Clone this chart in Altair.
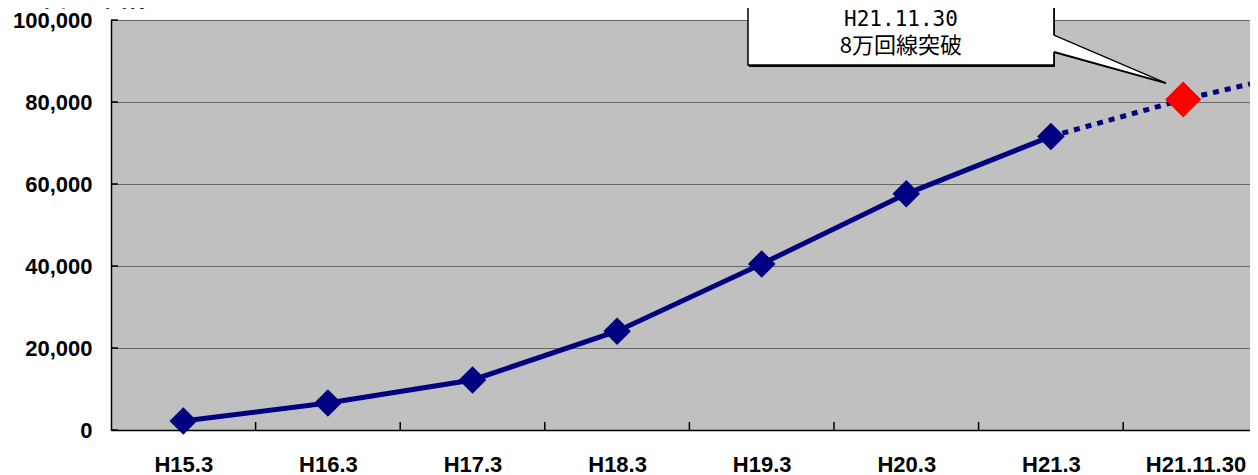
import altair as alt
import pandas as pd

# ---- data ----
categories = ["H15.3", "H16.3", "H17.3", "H18.3", "H19.3", "H20.3", "H21.3", "H21.11.30"]
lines_count = [2200, 6600, 12200, 24100, 40500, 57600, 71600, 80600]
milestone_pos = 7.415            # the red diamond sits a little left of its category centre
trend_end_value = 84400          # dotted trend where it leaves the plot on the right
y_ticks = [0, 20000, 40000, 60000, 80000, 100000]
unit_label = "（単位：回線）"
callout_lines = ["H21.11.30", "8万回線突破"]

# ---- layout ----
W, H = 1139, 410
band = 144.6
xmax = W / band
n = len(categories)
pos = [i + 0.5 for i in range(n - 1)] + [milestone_pos]

df = pd.DataFrame({"cat": categories, "pos": pos, "value": lines_count})
solid = df.iloc[: n - 1]
last = df.iloc[[n - 1]]
dotted = pd.DataFrame({"pos": [pos[n - 2], pos[n - 1], xmax],
                       "value": [lines_count[n - 2], lines_count[n - 1], trend_end_value]})
xtick_df = pd.DataFrame({"pos": list(range(1, n))})
ytick_df = pd.DataFrame({"value": y_ticks})

xs = alt.Scale(domain=[0, xmax], nice=False, zero=False)
ys = alt.Scale(domain=[0, 100000], nice=False)

label_expr = "[" + ",".join("'%s'" % c for c in categories) + "][datum.value]"

x_axis = alt.Axis(values=list(range(n)), labelExpr=label_expr, labelOffset=band / 2,
                  ticks=False, grid=False, domainColor="#000000", domainWidth=1.5,
                  labelFont="Liberation Sans", labelFontSize=22, labelFontWeight="bold",
                  labelColor="#000000", labelPadding=24, labelFlush=False,
                  labelOverlap=False, labelBound=False, title=None)
y_axis = alt.Axis(values=y_ticks, labelExpr="format(datum.value, ',')", ticks=False, grid=True,
                  gridColor="#666666", gridWidth=1, domainColor="#000000", domainWidth=1.5,
                  labelFont="Liberation Sans", labelFontSize=22, labelFontWeight="bold",
                  labelColor="#000000", labelPadding=19, labelOverlap=False, title=None)


def X(field):
    return alt.X(field, type="quantitative", scale=xs, axis=x_axis, title=None)


def Y(field):
    return alt.Y(field, type="quantitative", scale=ys, axis=y_axis, title=None)


NAVY = "#000080"

line_solid = alt.Chart(solid).mark_line(color=NAVY, strokeWidth=5).encode(x=X("pos"), y=Y("value"))
line_dotted = alt.Chart(dotted).mark_line(color=NAVY, strokeWidth=5, strokeDash=[6, 6]).encode(
    x=X("pos"), y=Y("value"))
pts = alt.Chart(solid).mark_point(shape="diamond", filled=True, size=760, color=NAVY, opacity=1).encode(
    x=X("pos"), y=Y("value"))
red_pt = alt.Chart(last).mark_point(shape="diamond", filled=True, size=1300, color="#FF0000", opacity=1).encode(
    x=X("pos"), y=Y("value"))

# inward ticks
xticks = alt.Chart(xtick_df).mark_rule(color="#000000", strokeWidth=1.5).encode(
    x=X("pos"), y=alt.value(H), y2=alt.value(H - 8))
yticks = alt.Chart(ytick_df).mark_rule(color="#000000", strokeWidth=1.5).encode(
    y=Y("value"), x=alt.value(0), x2=alt.value(7))

# callout (in data coordinates)
box_df = pd.DataFrame({"pos": [4.405], "pos2": [6.521], "value": [89000], "value2": [107300]})
shadow = alt.Chart(box_df).mark_rect(fill="#000000", xOffset=1, yOffset=2, x2Offset=1, y2Offset=2).encode(
    x=X("pos"), x2="pos2:Q", y=Y("value"), y2="value2:Q")
box = alt.Chart(box_df).mark_rect(fill="#FFFFFF", stroke="#000000", strokeWidth=1.5).encode(
    x=X("pos"), x2="pos2:Q", y=Y("value"), y2="value2:Q")
ptr_df = pd.DataFrame({"pos": [6.50, 6.521, 7.296], "value": [96300, 96300, 84600],
                       "value2": [92200, 92200, 84600]})
pointer = alt.Chart(ptr_df).mark_area(fill="#FFFFFF", opacity=1).encode(
    x=X("pos"), y=Y("value"), y2="value2:Q")
edge_df = pd.DataFrame({"pos": [6.521, 6.521], "pos2": [7.296, 7.296], "value": [96300, 92200],
                        "value2": [84600, 84600], "w": [1.2, 2.0]})
edges = alt.Chart(edge_df).mark_rule(color="#000000").encode(
    x=X("pos"), x2="pos2:Q", y=Y("value"), y2="value2:Q",
    strokeWidth=alt.StrokeWidth("w:Q", scale=None, legend=None))
txt_df = pd.DataFrame({"pos": [5.463, 5.463], "value": [100100, 93600], "t": callout_lines})
txt1 = alt.Chart(txt_df.iloc[[0]]).mark_text(font="DejaVu Sans Mono", fontSize=21, color="#000000",
                                             baseline="middle", align="center").encode(
    x=X("pos"), y=Y("value"), text="t:N")
txt2 = alt.Chart(txt_df.iloc[[1]]).mark_text(font="Noto Sans CJK JP", fontSize=22, color="#000000",
                                             baseline="middle", align="center").encode(
    x=X("pos"), y=Y("value"), text="t:N")

unit_df = pd.DataFrame({"t": [unit_label]})
unit = alt.Chart(unit_df).mark_text(font="Noto Sans CJK JP", fontSize=23, fontWeight="bold",
                                    color="#000000", baseline="bottom", align="center").encode(
    x=alt.value(-18), y=alt.value(-9), text="t:N")

chart = alt.layer(
    line_solid, line_dotted, pts, red_pt, xticks, yticks,
    shadow, box, pointer, edges, txt1, txt2, unit,
).properties(
    width=W, height=H,
    autosize=alt.AutoSizeParams(type="none"),
    padding={"left": 103, "top": 12, "right": 0, "bottom": 45},
    background="#FFFFFF",
).configure_view(fill="#C0C0C0", strokeWidth=0)

chart.save("out.html", embed_options={"renderer": "svg", "actions": False})
